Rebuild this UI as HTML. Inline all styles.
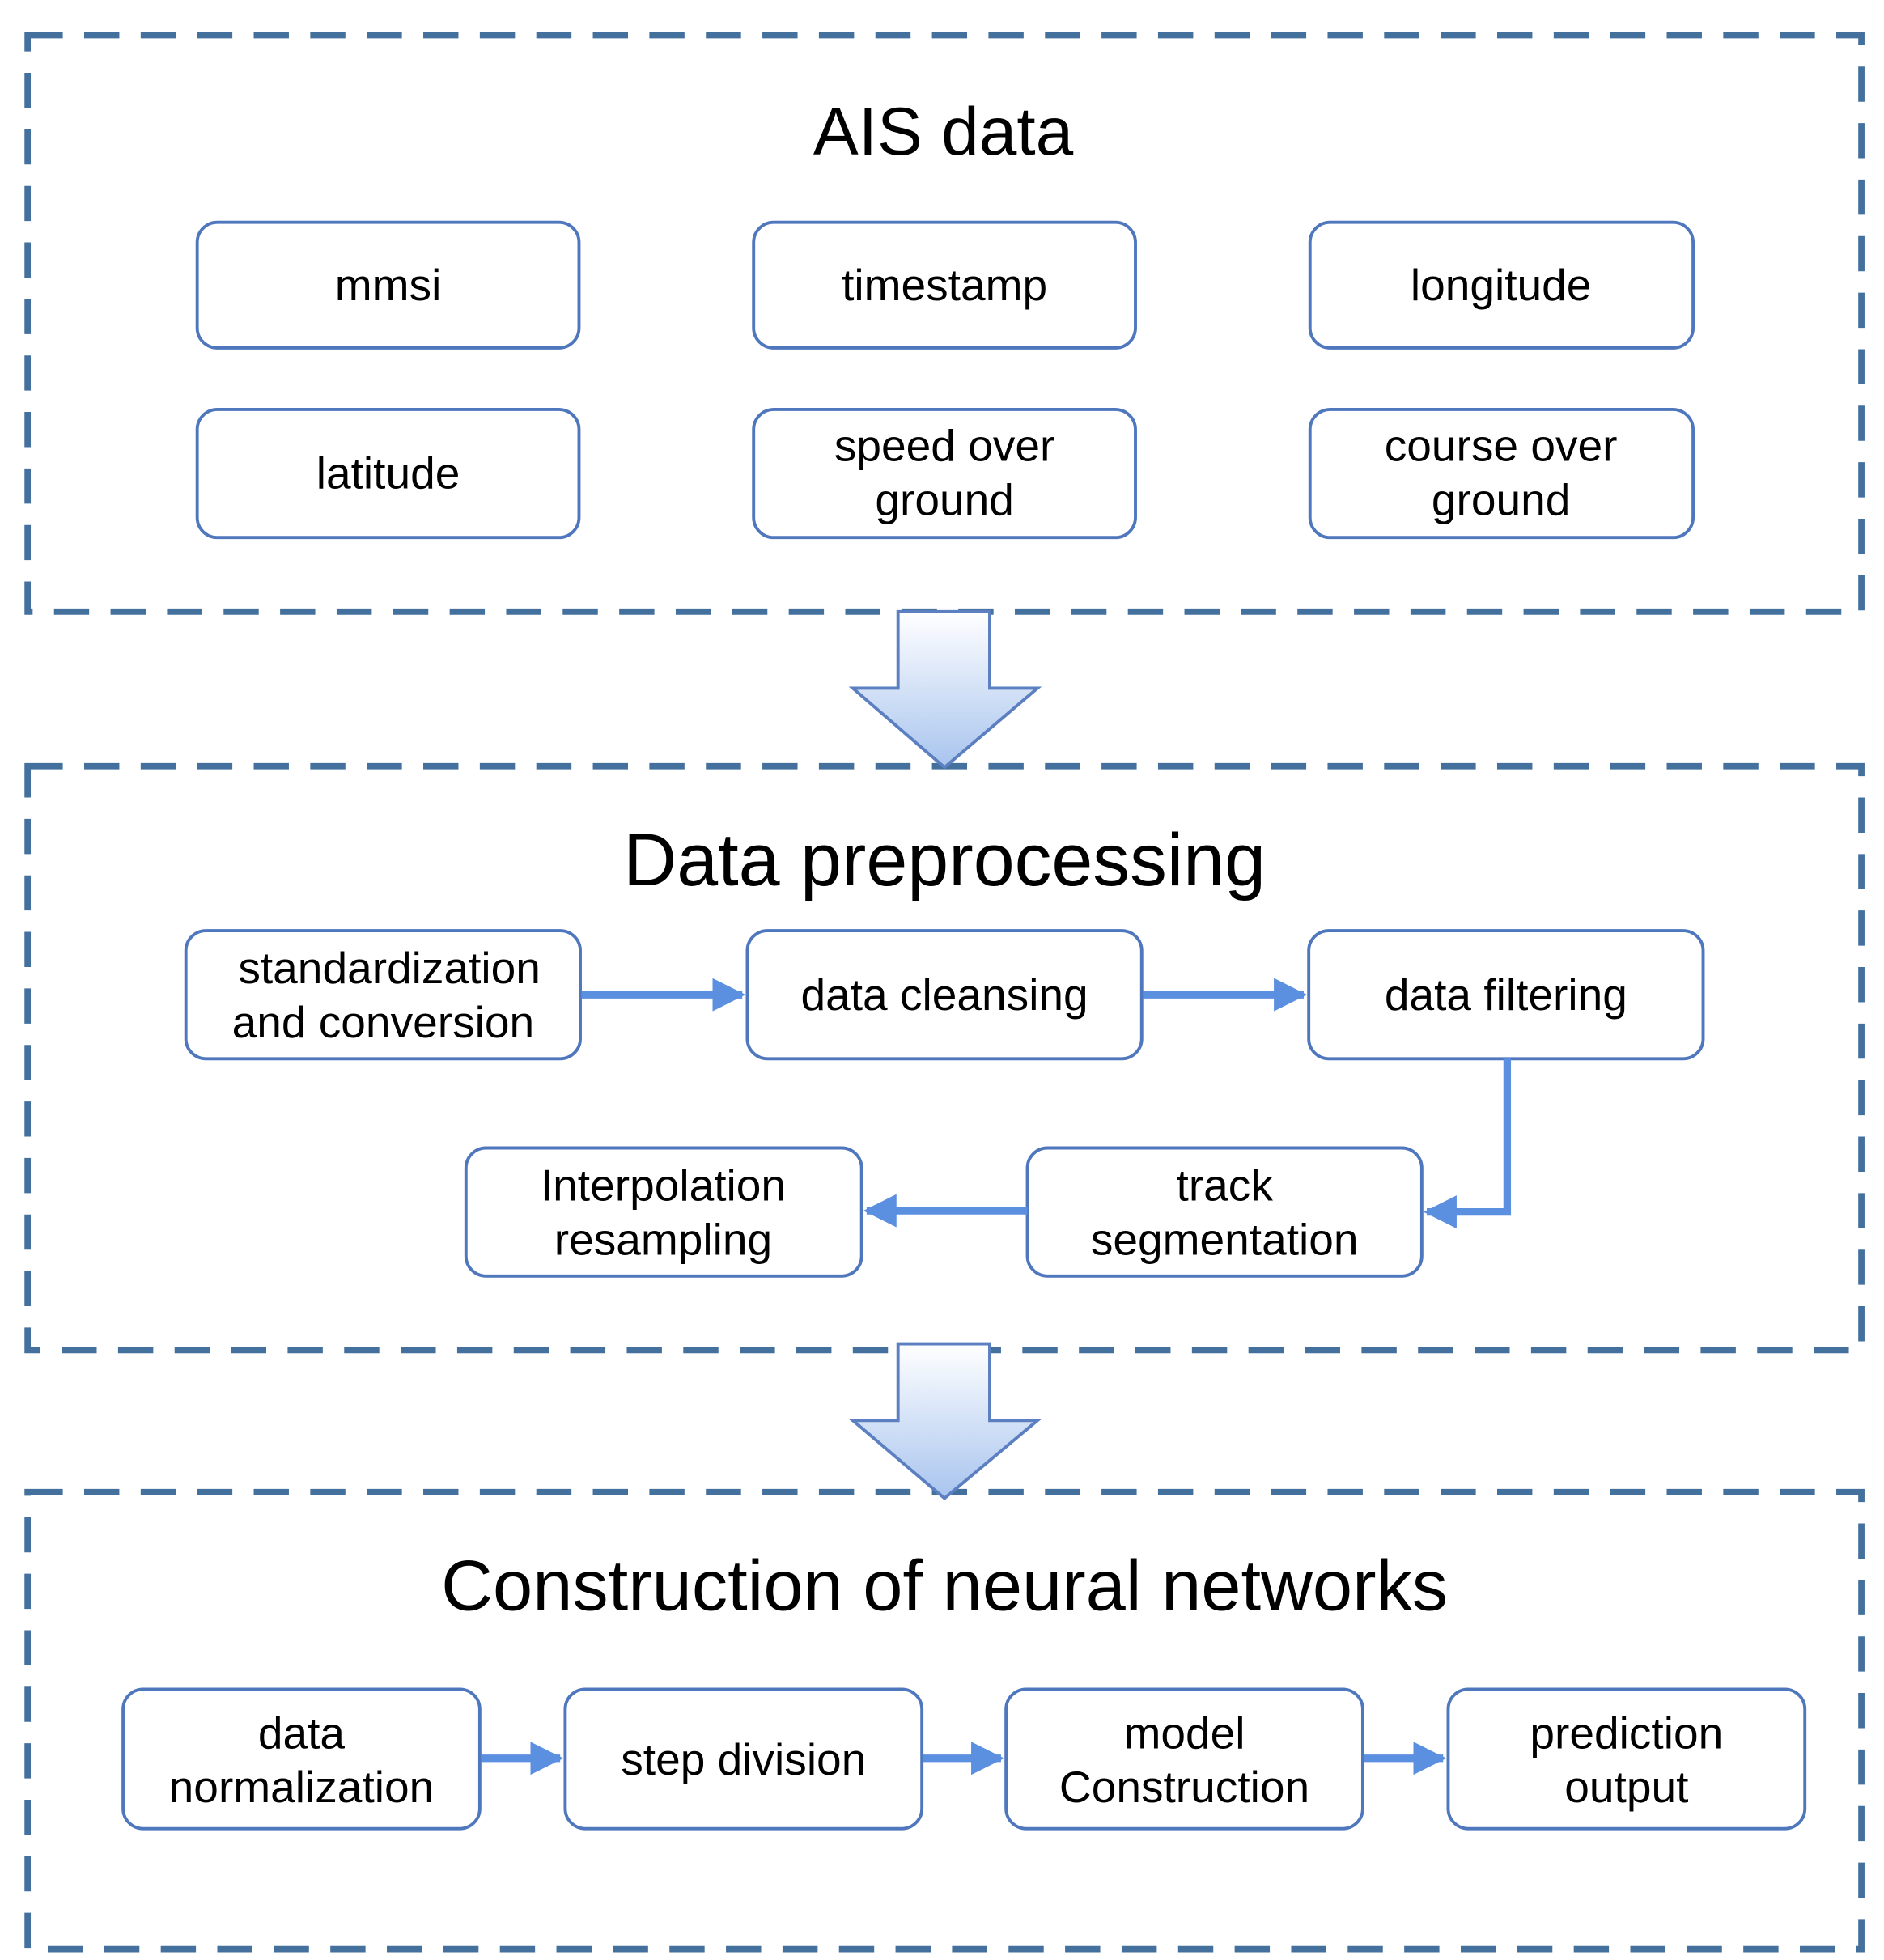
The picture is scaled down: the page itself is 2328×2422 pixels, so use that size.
<!DOCTYPE html>
<html><head><style>html,body{margin:0;padding:0;background:#fff}svg{display:block}</style></head>
<body>
<svg width="2328" height="2422" viewBox="0 0 1500 1560.6" preserveAspectRatio="none" xmlns="http://www.w3.org/2000/svg" font-family="Liberation Sans, Arial, sans-serif">
<defs>
<linearGradient id="g" x1="0" y1="0" x2="0" y2="1"><stop offset="0" stop-color="#ffffff"/><stop offset="1" stop-color="#a8c4ee"/></linearGradient>
<marker id="ah" viewBox="0 0 10 10" refX="9" refY="5" markerWidth="4.4" markerHeight="4.4" orient="auto" markerUnits="strokeWidth"><path d="M0,0 L10,5 L0,10 z" fill="#5b8fe0"/></marker>
</defs>
<g fill="none" stroke="#44709d" stroke-width="5" stroke-dasharray="28 17">
<rect x="22" y="28" width="1460" height="459"/>
<rect x="22" y="610" width="1460" height="465"/>
<rect x="22" y="1188" width="1460" height="364"/>
</g>
<path d="M715,487 L788,487 L788,548 L826,548 L752,611 L679,548 L715,548 Z" fill="url(#g)" stroke="#5b7fc0" stroke-width="2.5"/>
<path d="M715,1070 L788,1070 L788,1131 L826,1131 L752,1193 L679,1131 L715,1131 Z" fill="url(#g)" stroke="#5b7fc0" stroke-width="2.5"/>
<g fill="#000" text-anchor="middle">
<text x="751" y="123" font-size="54">AIS data</text>
<text x="752" y="705" font-size="59">Data preprocessing</text>
<text x="752" y="1282" font-size="57">Construction of neural networks</text>
</g>
<g fill="#fff" stroke="#4f77bd" stroke-width="2.5">
<rect x="157" y="177" width="304" height="100" rx="16"/>
<rect x="600" y="177" width="304" height="100" rx="16"/>
<rect x="1043" y="177" width="305" height="100" rx="16"/>
<rect x="157" y="326" width="304" height="102" rx="16"/>
<rect x="600" y="326" width="304" height="102" rx="16"/>
<rect x="1043" y="326" width="305" height="102" rx="16"/>
<rect x="148" y="741" width="314" height="102" rx="16"/>
<rect x="595" y="741" width="314" height="102" rx="16"/>
<rect x="1042" y="741" width="314" height="102" rx="16"/>
<rect x="818" y="914" width="314" height="102" rx="16"/>
<rect x="371" y="914" width="315" height="102" rx="16"/>
<rect x="98" y="1345" width="284" height="111" rx="16"/>
<rect x="450" y="1345" width="284" height="111" rx="16"/>
<rect x="801" y="1345" width="284" height="111" rx="16"/>
<rect x="1153" y="1345" width="284" height="111" rx="16"/>
</g>
<g fill="none" stroke="#5b8fe0" stroke-width="6" marker-end="url(#ah)">
<path d="M463,792 L591,792"/>
<path d="M910,792 L1038,792"/>
<path d="M1200,843 L1200,965 L1136,965"/>
<path d="M818,964 L690,964"/>
<path d="M383,1400 L446,1400"/>
<path d="M735,1400 L797,1400"/>
<path d="M1086,1400 L1149,1400"/>
</g>
<g fill="#000" text-anchor="middle" font-size="35.5">
<text x="309" y="239">mmsi</text>
<text x="752" y="239">timestamp</text>
<text x="1195" y="239">longitude</text>
<text x="309" y="389">latitude</text>
<text x="752" y="367">speed over</text><text x="752" y="410">ground</text>
<text x="1195" y="367">course over</text><text x="1195" y="410">ground</text>
<text x="310" y="783">standardization</text><text x="305" y="826">and conversion</text>
<text x="752" y="804">data cleansing</text>
<text x="1199" y="804">data filtering</text>
<text x="975" y="956">track</text><text x="975" y="999">segmentation</text>
<text x="528" y="956">Interpolation</text><text x="528" y="999">resampling</text>
<text x="240" y="1392">data</text><text x="240" y="1435">normalization</text>
<text x="592" y="1413">step division</text>
<text x="943" y="1392">model</text><text x="943" y="1435">Construction</text>
<text x="1295" y="1392">prediction</text><text x="1295" y="1435">output</text>
</g>
</svg>
</body></html>
